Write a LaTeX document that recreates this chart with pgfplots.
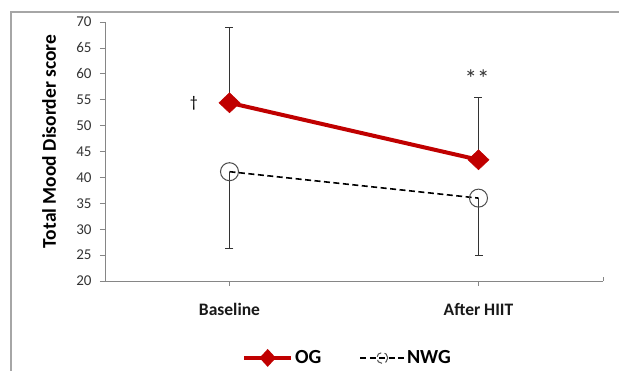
\documentclass[border=0pt]{standalone}
\usepackage{fontspec}
\setmainfont{Carlito}
\usepackage{pgfplots}
\pgfplotsset{compat=1.18}
\definecolor{ogred}{HTML}{C00000}
\definecolor{axgray}{HTML}{868686}
\begin{document}
\begin{tikzpicture}
\path[use as bounding box] (-105pt,-90pt) rectangle (514pt,281pt);
\draw[black!35, line width=1.3pt] (-94pt,-90pt) -- (-94pt,269pt) -- (514pt,269pt);
\begin{axis}[
  at={(0pt,0pt)}, anchor=south west,
  width=498pt, height=259pt, scale only axis,
  xmin=0, xmax=2, ymin=20, ymax=70,
  axis x line=bottom, axis y line=left,
  axis line style={axgray, line width=0.9pt, -},
  xtick={0.5,1.5}, xticklabels={Baseline, After HIIT},
  extra x ticks={2}, extra x tick labels={},
  extra x tick style={tick align=inside, major tick length=4pt},
  ytick={20,25,...,70},
  tick align=outside, major tick length=5pt,
  tick style={axgray, line width=0.7pt},
  /pgf/number format/assume math mode=true,
  yticklabel style={font=\fontsize{15}{17}\selectfont, text=black!80, xshift=-5pt},
  xticklabel style={font=\fontsize{17.5}{19}\selectfont\bfseries, text=black!90, yshift=-14pt},
  ylabel={\textbf{Total Mood Disorder score}},
  every axis y label/.style={at={(axis description cs:0,0.539)}, xshift=-56pt, rotate=90, anchor=center, font=\fontsize{19.5}{22}\selectfont},
  clip=false,
  legend columns=2,
  legend style={at={(axis description cs:0.487,-0.297)}, anchor=center, draw=none,
    font=\fontsize{20}{22}\selectfont\bfseries, column sep=0pt,
    /tikz/every even column/.append style={column sep=36pt}},
  legend cell align=left,
]
\addplot[ogred, line width=4pt, mark=diamond*, mark size=10pt,
  mark options={xscale=1.4, fill=ogred, draw=ogred, line width=0.5pt},
  legend image code/.code={
    \draw[ogred, line width=4pt] (0pt,0pt) -- (47pt,0pt);
    \fill[ogred] (23.5pt,6pt) -- (29pt,0pt) -- (23.5pt,-6pt) -- (18pt,0pt) -- cycle;},
  error bars/.cd, y dir=plus, y explicit,
  error bar style={black!80, line width=1pt}, error mark options={rotate=90, mark size=4pt, black!80, line width=1pt}]
  coordinates {(0.5,54.4) +- (0,14.6) (1.5,43.4) +- (0,12.1)};
\addlegendentry{OG}
\addplot[black, line width=1.6pt, dash pattern=on 6pt off 3.5pt, mark=o, mark size=9pt,
  mark options={solid, black!70, line width=1pt},
  legend image code/.code={
    \draw[black, line width=1.6pt, dash pattern=on 6pt off 3.5pt] (0pt,0pt) -- (44pt,0pt);
    \draw[black!70, line width=1pt, fill=white] (22pt,0pt) circle (5.5pt);
    \draw[black, line width=1.6pt] (19pt,0pt) -- (25pt,0pt);},
  error bars/.cd, y dir=minus, y explicit,
  error bar style={black!80, line width=1pt, solid}, error mark options={rotate=90, mark size=4pt, black!80, line width=1pt}]
  coordinates {(0.5,41.1) +- (0,14.9) (1.5,36.0) +- (0,11.0)};
\addlegendentry{NWG}
\node[font=\fontsize{16}{16}\selectfont] at (axis cs:0.357,54.4) {†};
\node[font=\fontsize{25}{25}\selectfont, text=black!80] at (axis cs:1.494,59.0) {**};
\end{axis}
\end{tikzpicture}
\end{document}
